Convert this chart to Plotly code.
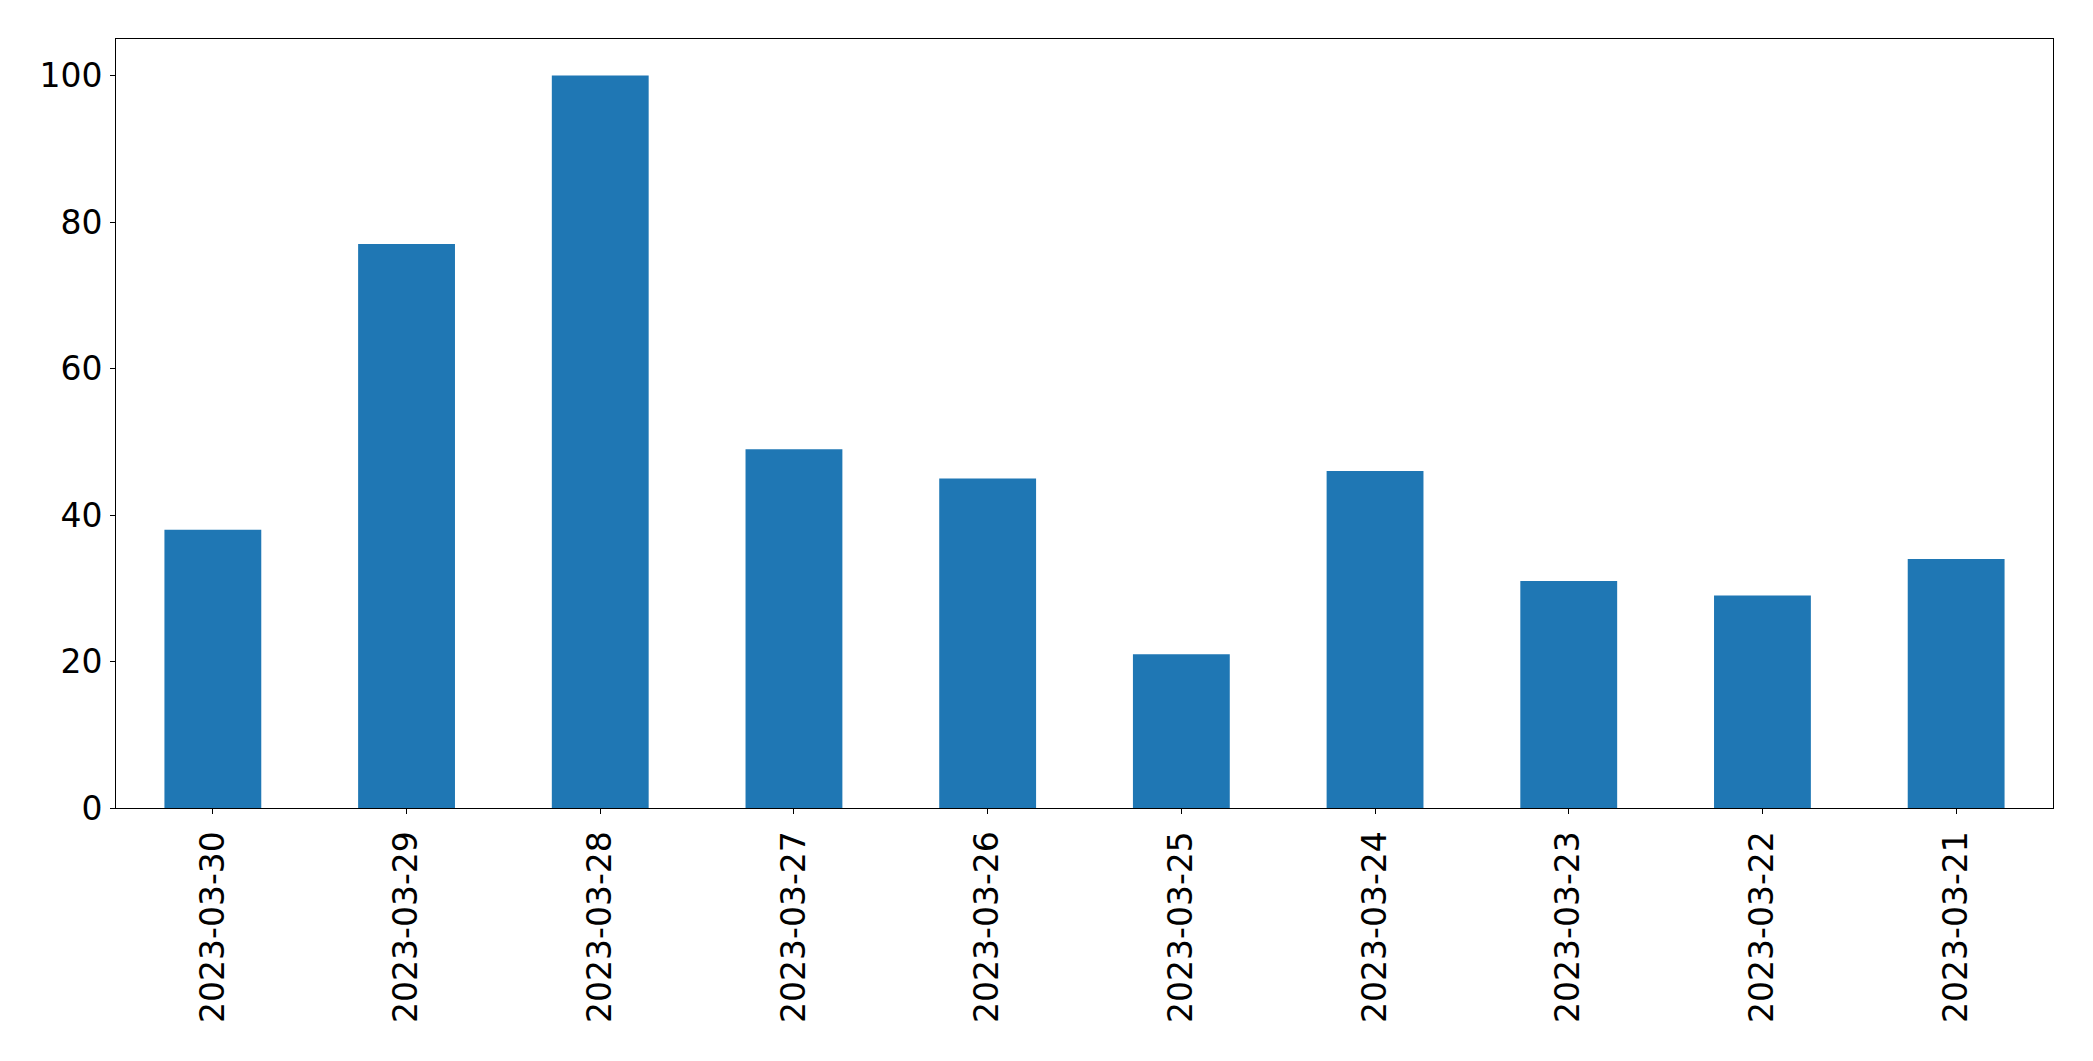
import plotly.graph_objects as go

dates = ["2023-03-30", "2023-03-29", "2023-03-28", "2023-03-27", "2023-03-26",
         "2023-03-25", "2023-03-24", "2023-03-23", "2023-03-22", "2023-03-21"]
counts = [38, 77, 100, 49, 45, 21, 46, 31, 29, 34]
y_ticks = [0, 20, 40, 60, 80, 100]

fig = go.Figure(go.Bar(x=dates, y=counts, width=0.5, marker_color="#1f77b4",
                       marker_line_width=0))

fig.update_layout(
    width=2077, height=1045,
    margin=dict(l=108, r=32, t=31, b=245, pad=0),
    paper_bgcolor="white", plot_bgcolor="white",
    font=dict(family="DejaVu Sans", size=33, color="black"),
    showlegend=False,
)
fig.update_xaxes(type="category", range=[-0.5, len(dates) - 0.5],
                 tickangle=-90, showline=True, linecolor="black", linewidth=1,
                 mirror=True, ticks="outside", ticklen=5, tickwidth=1,
                 tickcolor="black", showgrid=False, zeroline=False,
                 ticklabelstandoff=4)
fig.update_yaxes(range=[0, 105], tickvals=y_ticks, showline=True,
                 linecolor="black", linewidth=1, mirror=True, ticks="outside",
                 ticklen=5, tickwidth=1, tickcolor="black", showgrid=False,
                 zeroline=False, ticklabelstandoff=1)

fig.write_html("out.html")
